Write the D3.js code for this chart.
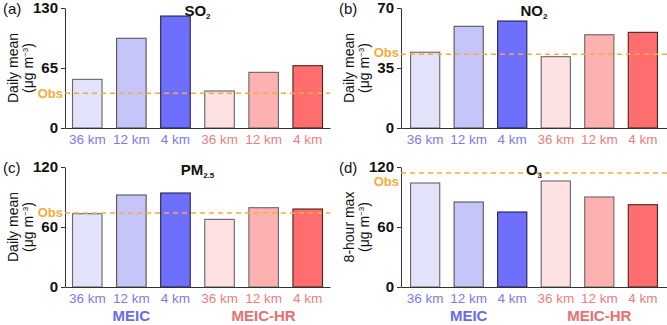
<!DOCTYPE html>
<html>
<head>
<meta charset="UTF-8">
<script src="https://cdn.jsdelivr.net/npm/d3@7"></script>
<style>
  body { margin: 0; background: #fff; }
  svg { display: block; font-family: "Liberation Sans", Arial, sans-serif; }
</style>
</head>
<body>
<div id="chart"></div>
<script>
// data
const resolutions = ["36 km", "12 km", "4 km", "36 km", "12 km", "4 km"];
const inventories = ["MEIC", "MEIC", "MEIC", "MEIC-HR", "MEIC-HR", "MEIC-HR"];
const so2  = [52.7, 97.2, 121.3, 40.1, 60.3, 67.5];
const no2  = [44.2, 59.3, 62.4, 41.6, 54.4, 55.8];
const pm25 = [73.3, 92, 94, 67.6, 79.3, 78];
const o3   = [104, 85, 75, 106, 90, 82.3];
const obs  = [37.6, 43, 74, 114];
const yMax = [130, 70, 120, 120];
const yTicks = [[0, 65, 130], [0, 35, 70], [0, 60, 120], [0, 60, 120]];
const panelTags = ["(a)", "(b)", "(c)", "(d)"];
const species = [["SO", "2"], ["NO", "2"], ["PM", "2.5"], ["O", "3"]];
const yLabels = ["Daily mean", "Daily mean", "Daily mean", "8-hour max"];
const series = [so2, no2, pm25, o3];

const fills = ["#e2e2fb", "#c5c5fa", "#6f6ffd", "#fde1e3", "#fdb1b1", "#fe6e6e"];
const strokes = ["#666", "#555", "#22224a", "#666", "#666", "#4a2222"];
const blueText = "#7b7be6", redText = "#e98080";
const obsColor = "#f2ae3d";

const W = 667, H = 325;
const svg = d3.select("#chart").append("svg")
    .attr("width", W)
    .attr("height", H);

// panel frames: left x of axis, right end, top of plot, bottom (zero)
const frames = [
  {x0: 65, x1: 330, y0: 8, y1: 128, po: 0.17, obsDy: 5},
  {x0: 401, x1: 667, y0: 8, y1: 128, po: 0.22, obsDy: 3},
  {x0: 65, x1: 330, y0: 167, y1: 287, po: 0.17, obsDy: 4},
  {x0: 401, x1: 667, y0: 167, y1: 287, po: 0.22, obsDy: 13}
];

frames.forEach(function(f, i) {
  const g = svg.append("g");
  const idx = d3.range(6);

  const x = d3.scaleBand()
      .domain(idx)
      .range([f.x0, f.x1])
      .paddingInner(0.33)
      .paddingOuter(f.po);

  const y = d3.scaleLinear()
      .domain([0, yMax[i]])
      .range([f.y1, f.y0]);

  // bars
  g.selectAll(".bar")
      .data(series[i])
    .enter().append("rect")
      .attr("class", "bar")
      .attr("x", function(d, j) { return x(j); })
      .attr("width", x.bandwidth())
      .attr("y", function(d) { return y(d); })
      .attr("height", function(d) { return f.y1 - y(d); })
      .attr("fill", function(d, j) { return fills[j]; })
      .attr("stroke", function(d, j) { return strokes[j]; })
      .attr("stroke-width", 1.1);

  // y axis
  const ya = g.append("g")
      .attr("transform", "translate(" + f.x0 + ",0)")
      .call(d3.axisLeft(y).tickValues(yTicks[i]).tickSize(4).tickSizeOuter(0));
  ya.select(".domain").attr("stroke", "#333");
  ya.selectAll(".tick line").attr("stroke", "#333");
  ya.selectAll(".tick text")
      .attr("font-size", 15)
      .attr("font-weight", "bold")
      .attr("fill", "#111")
      .attr("font-family", "Liberation Sans, Arial, sans-serif")
      .attr("x", -7);

  // x axis
  const xa = g.append("g")
      .attr("transform", "translate(0," + f.y1 + ")")
      .call(d3.axisBottom(x).tickSize(0).tickSizeOuter(0)
        .tickFormat(function(j) { return resolutions[j]; }));
  xa.select(".domain").attr("stroke", "#333");
  xa.selectAll(".tick text")
      .attr("font-size", 13.5)
      .attr("font-family", "Liberation Sans, Arial, sans-serif")
      .attr("dy", 0)
      .attr("y", 16)
      .attr("fill", function(j) { return j < 3 ? blueText : redText; });

  // observation line
  g.append("line")
      .attr("x1", f.x0)
      .attr("x2", f.x1)
      .attr("y1", y(obs[i]))
      .attr("y2", y(obs[i]))
      .attr("stroke", obsColor)
      .attr("stroke-width", 1.5)
      .attr("stroke-dasharray", "5,4");
  g.append("text")
      .attr("x", f.x0 - 2)
      .attr("y", y(obs[i]) + f.obsDy)
      .attr("text-anchor", "end")
      .attr("font-size", 13)
      .attr("font-weight", "bold")
      .attr("fill", obsColor)
      .text("Obs");

  // panel tag
  g.append("text")
      .attr("x", f.x0 - 62)
      .attr("y", f.y0 + 6)
      .attr("font-size", 15)
      .attr("fill", "#111")
      .text(panelTags[i]);

  // title with subscript
  const t = g.append("text")
      .attr("x", (f.x0 + f.x1) / 2)
      .attr("y", f.y0 + 8)
      .attr("text-anchor", "middle")
      .attr("font-size", 15)
      .attr("font-weight", "bold")
      .attr("fill", "#111");
  t.append("tspan").text(species[i][0]);
  t.append("tspan")
      .attr("font-size", 8)
      .attr("dy", 3)
      .text(species[i][1]);

  // y label, two lines
  const cy = (f.y0 + f.y1) / 2;
  g.append("text")
      .attr("transform", "translate(" + (f.x0 - 47) + "," + cy + ") rotate(-90)")
      .attr("text-anchor", "middle")
      .attr("font-size", 14)
      .attr("fill", "#111")
      .text(yLabels[i]);
  const u = g.append("text")
      .attr("transform", "translate(" + (f.x0 - 32) + "," + cy + ") rotate(-90)")
      .attr("text-anchor", "middle")
      .attr("font-size", 14)
      .attr("fill", "#111");
  u.append("tspan").text("(μg m");
  u.append("tspan").attr("font-size", 8).attr("dy", -5).text("−3");
  u.append("tspan").attr("dy", 5).text(")");

  // inventory group labels under bottom row
  if (i >= 2) {
    [1, 4].forEach(function(j) {
      g.append("text")
          .attr("x", x(j) + x.bandwidth() / 2)
          .attr("y", f.y1 + 34)
          .attr("text-anchor", "middle")
          .attr("font-size", 15)
          .attr("font-weight", "bold")
          .attr("fill", j < 3 ? "#6b6be8" : "#e86f6f")
          .text(inventories[j]);
    });
  }
});
</script>
</body>
</html>
